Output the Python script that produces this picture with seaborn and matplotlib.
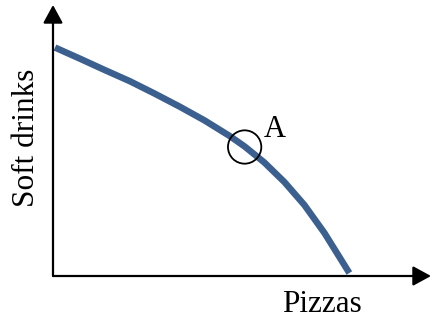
import matplotlib
matplotlib.use("Agg")
import matplotlib.pyplot as plt
import seaborn as sns
import pandas as pd

# production possibilities frontier (0-100 axis units)
pizzas = [0.53, 7.12, 13.7, 20.3, 26.9, 33.5, 40.1, 46.7, 50.7, 55.9, 61.2, 66.5, 71.8, 78.4]
soft_drinks = [84.3, 80.2, 76.0, 71.9, 67.3, 62.5, 57.4, 51.7, 47.8, 41.9, 34.7, 26.2, 15.9, 1.1]
point_a = (50.7, 47.6)

sns.set_style("white")
plt.rcParams['font.family'] = ['Liberation Serif', 'DejaVu Serif']
plt.rcParams['text.color'] = 'black'

ppf = pd.DataFrame({"Pizzas": pizzas, "Soft drinks": soft_drinks})

fig = plt.figure(figsize=(4.32, 3.22), dpi=100)
ax = fig.add_axes([53/432, 46/322, 378/432, 271/322])

sns.lineplot(data=ppf, x="Pizzas", y="Soft drinks", ax=ax, color="#3b5f8f",
             linewidth=4.7, sort=False, solid_capstyle="butt", solid_joinstyle="round")
ax.scatter([point_a[0]], [point_a[1]], s=24**2, facecolors="none",
           edgecolors="black", linewidths=1.3, zorder=3)
ax.text(58.6, 54.2, "A", fontsize=22, ha="center", va="center", color="black")

ax.set_xlim(0, 100)
ax.set_ylim(0, 100)
ax.set_xticks([])
ax.set_yticks([])
for s in ax.spines.values():
    s.set_visible(False)

# axes drawn as arrows
arrow = dict(arrowstyle="-|>,head_length=0.55,head_width=0.3", lw=1.6,
             color="black", mutation_scale=20, shrinkA=0, shrinkB=0)
ax.annotate("", xy=(0, 1), xytext=(0, 0), xycoords="axes fraction",
            textcoords="axes fraction", arrowprops=arrow)
ax.annotate("", xy=(1, 0), xytext=(0, 0), xycoords="axes fraction",
            textcoords="axes fraction", arrowprops=arrow)

ax.set_xlabel("")
ax.set_ylabel("")
fig.text(322/432, 1 - 305/322, "Pizzas", fontsize=22.5, ha="center", va="center",
         color="black")
fig.text(27/432, 1 - 138/322, "Soft drinks", fontsize=22.5, rotation=90,
         ha="center", va="center", color="black")

fig.savefig("out.png", dpi=100)
